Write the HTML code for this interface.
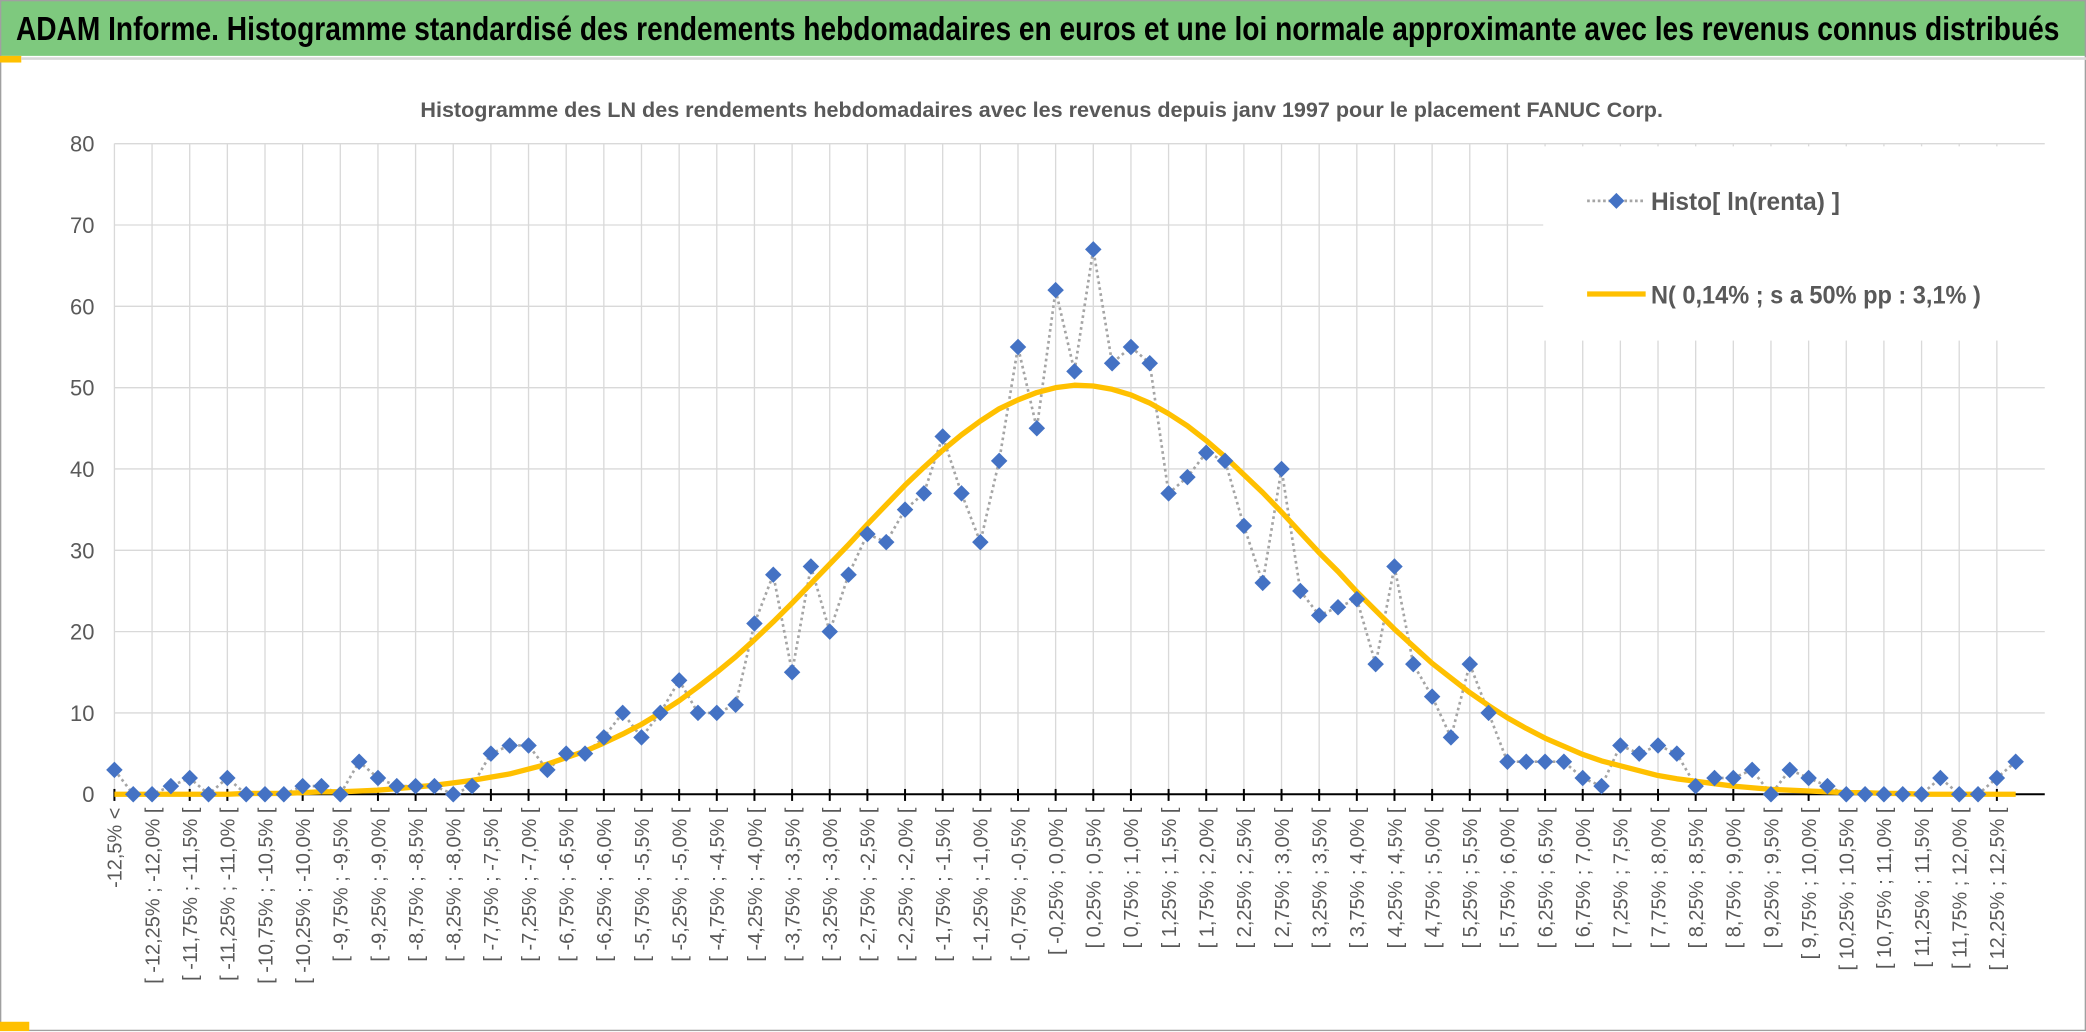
<!DOCTYPE html>
<html><head><meta charset="utf-8"><style>
html,body{margin:0;padding:0;background:#fff;}
svg{display:block;}
text{font-family:"Liberation Sans",sans-serif;}
</style></head><body>
<svg id="chart" width="2086" height="1032" viewBox="0 0 1568 775.7" preserveAspectRatio="none" xmlns="http://www.w3.org/2000/svg">
<rect x="0" y="0" width="1568" height="776" fill="#ffffff"/>
<rect x="0" y="0" width="1568" height="42" fill="#7ec97e"/>
<rect x="0.5" y="0.5" width="1567" height="774" fill="none" stroke="#a0a0a0" stroke-width="1"/>
<text x="12" y="30" font-size="25" font-weight="bold" fill="#000" textLength="1536" lengthAdjust="spacingAndGlyphs">ADAM Informe. Histogramme standardisé des rendements hebdomadaires en euros et une loi normale approximante avec les revenus connus distribués</text>
<rect x="0" y="42" width="16" height="5" fill="#ffc000"/>
<line x1="16" y1="44" x2="1568" y2="44" stroke="#d9d9d9" stroke-width="2"/>
<rect x="0" y="768" width="22" height="7" fill="#ffc000"/>
<text x="783" y="88" font-size="16" font-weight="bold" fill="#595959" text-anchor="middle" textLength="934" lengthAdjust="spacingAndGlyphs">Histogramme des LN des rendements hebdomadaires avec les revenus depuis janv 1997 pour le placement FANUC Corp.</text>
<g id="grid"></g>
<g id="yaxis"></g>
<g id="xaxis"></g>
<g id="series"></g>
<g>
<rect x="1160" y="110" width="378" height="146" fill="#ffffff"/>
<g>
<line x1="1193" y1="151" x2="1237" y2="151" stroke="#a5a5a5" stroke-width="2" stroke-dasharray="2,2"/>
<path d="M1215 145 L1221 151 L1215 157 L1209 151 Z" fill="#4472c4"/>
<text x="1241" y="158" font-size="19" font-weight="bold" fill="#595959" textLength="142" lengthAdjust="spacingAndGlyphs">Histo[ ln(renta) ]</text>
</g>
<g>
<line x1="1193" y1="221" x2="1237" y2="221" stroke="#ffc000" stroke-width="4"/>
<text x="1241" y="228" font-size="19" font-weight="bold" fill="#595959" textLength="248" lengthAdjust="spacingAndGlyphs">N( 0,14% ; s a 50% pp : 3,1% )</text>
</g>
</g>
</svg>
<script>
const histoValues = [3,0,0,1,2,0,2,0,0,0,1,1,0,4,2,1,1,1,0,1,5,6,6,3,5,5,7,10,7,10,14,10,10,11,21,27,15,28,20,27,32,31,35,37,44,37,31,41,55,45,62,52,67,53,55,53,37,39,42,41,33,26,40,25,22,23,24,16,28,16,12,7,16,10,4,4,4,4,2,1,6,5,6,5,1,2,2,3,0,3,2,1,0,0,0,0,0,2,0,0,2,4];
const normalValues = [0,0,0,0,0,0,0,0.1,0.1,0.1,0.2,0.3,0.3,0.4,0.5,0.7,0.9,1.1,1.4,1.7,2.1,2.5,3.1,3.7,4.5,5.3,6.3,7.4,8.6,10.0,11.5,13.2,15.0,16.9,19.0,21.2,23.5,25.9,28.3,30.7,33.2,35.6,38.0,40.2,42.3,44.2,45.9,47.4,48.5,49.4,50.0,50.3,50.2,49.8,49.1,48.1,46.8,45.3,43.5,41.5,39.3,37.1,34.7,32.2,29.7,27.4,24.9,22.6,20.3,18.2,16.1,14.3,12.5,10.9,9.4,8.1,6.9,5.9,4.9,4.1,3.5,2.9,2.3,1.9,1.6,1.3,1.0,0.8,0.6,0.5,0.4,0.3,0.2,0.2,0.1,0.1,0,0,0,0,0,0];
const yTicks = [0,10,20,30,40,50,60,70,80];
const binStart = -12.5;
const binStep = 0.25;

function fmt(v){ return (v<0?'-':'') + Math.abs(v).toFixed(Math.abs(v*100)%50===0?1:2).replace('.',','); }
const categories = histoValues.map((_,i)=>{
  if(i===0) return fmt(binStart)+'% <';
  if(i===histoValues.length-1) return '> '+fmt(-binStart)+'%';
  const a = binStart + binStep*(i-1), b = a + binStep;
  return '[ '+fmt(a)+'% ; '+fmt(b)+'% [';
});

const NS='http://www.w3.org/2000/svg';
const X0=86, X1=86+14.15*101, Y0=597, Y80=108;
const xS = i => X0 + (X1-X0)*i/(histoValues.length-1);
const yS = v => Y0 - (Y0-Y80)*v/80;
function mk(tag, attrs, parent){
  const e=document.createElementNS(NS,tag);
  for(const k in attrs) e.setAttribute(k,attrs[k]);
  parent.appendChild(e); return e;
}
const grid=document.getElementById('grid');
yTicks.forEach(t=>{
  if(t===0) return;
  const l=mk('line',{x1:X0,x2:1537,y1:yS(t),y2:yS(t),stroke:'#d9d9d9','stroke-width':1},grid);
  
  
});
for(let i=0;i<histoValues.length;i+=2){
  const l=mk('line',{x1:xS(i),x2:xS(i),y1:Y80,y2:Y0,stroke:'#d9d9d9','stroke-width':1},grid);
  
  
}
const ya=document.getElementById('yaxis');
yTicks.forEach(t=>{
  const tx=mk('text',{x:71,y:yS(t)+6,'font-size':16.5,fill:'#595959','text-anchor':'end'},ya);
  tx.textContent=t;
  
  
});
const xa=document.getElementById('xaxis');
const ax=mk('line',{x1:X0,x2:1537,y1:Y0,y2:Y0,stroke:'#000','stroke-width':1.5},xa);


for(let i=0;i<histoValues.length;i+=2){
  const tk=mk('line',{x1:xS(i),x2:xS(i),y1:Y0-4,y2:Y0+5,stroke:'#000','stroke-width':1.5},xa);
  
  
  const x=xS(i)+5.5, y=607;
  const tx=mk('text',{x:x,y:y,'font-size':15,fill:'#595959','text-anchor':'end',transform:'rotate(-90 '+x+' '+y+')'},xa);
  tx.textContent=categories[i];
  
  
}
const sg=document.getElementById('series');
const hp=mk('polyline',{points:histoValues.map((v,i)=>xS(i)+','+yS(v)).join(' '),fill:'none',stroke:'#a5a5a5','stroke-width':2,'stroke-dasharray':'2,2.5'},sg);


const np=mk('polyline',{points:normalValues.map((v,i)=>xS(i)+','+yS(v)).join(' '),fill:'none',stroke:'#ffc000','stroke-width':4,'stroke-linejoin':'round'},sg);


histoValues.forEach((v,i)=>{
  const x=xS(i), y=yS(v), r=6.2;
  const d=mk('path',{d:'M'+x+' '+(y-r)+' L'+(x+r)+' '+y+' L'+x+' '+(y+r)+' L'+(x-r)+' '+y+' Z',fill:'#4472c4'},sg);
  
  
});
</script>
</body></html>
